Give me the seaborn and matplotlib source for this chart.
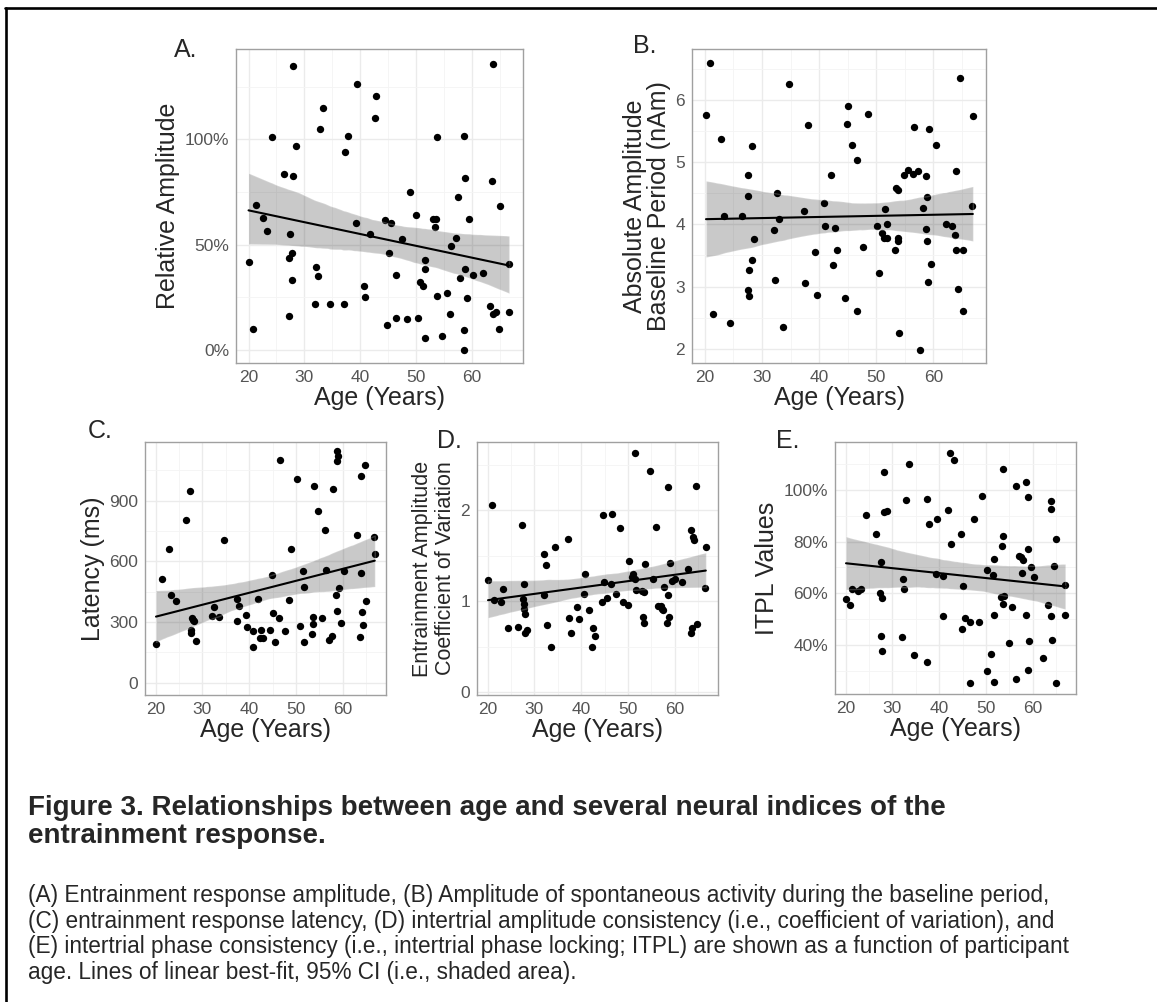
import matplotlib
matplotlib.use('Agg')
import matplotlib.pyplot as plt
from matplotlib.ticker import MultipleLocator, FuncFormatter
from matplotlib.collections import PolyCollection
import seaborn as sns

# A. relative entrainment amplitude (%)
age_a = [20.0, 20.8, 21.3, 22.6, 23.3, 24.2, 26.3, 28.0, 28.0, 28.5, 27.5, 27.7, 27.3, 27.7, 27.3,
         32.0, 32.1, 32.4, 32.8, 33.4, 34.6, 37.2, 37.3, 37.9, 39.5, 39.2, 40.7, 40.8, 41.8, 42.6,
         42.9, 44.5, 44.8, 45.1, 45.6, 46.4, 46.5, 47.5, 48.4, 49.0, 50.1, 50.3, 50.8, 51.3, 51.6,
         51.6, 51.6, 53.1, 53.6, 53.4, 53.7, 53.8, 54.7, 55.5, 56.2, 56.3, 57.1, 57.6, 57.9, 58.6,
         58.8, 58.8, 58.7, 58.6, 59.1, 59.5, 60.3, 62.0, 63.2, 63.6, 63.9, 63.9, 64.4, 65.0, 64.9,
         66.7, 66.7]
rel_amp = [41.7, 9.7, 69.0, 62.7, 56.3, 101.0, 83.3, 134.6, 82.5, 96.8, 55.2, 46.0, 43.5, 33.0, 16.2,
           21.6, 39.5, 35.2, 104.9, 114.8, 21.7, 21.7, 93.8, 101.6, 126.2, 60.0, 30.3, 24.9, 55.2, 110.3,
           120.8, 61.7, 11.7, 46.2, 60.0, 35.4, 15.1, 52.4, 14.6, 74.9, 63.8, 15.1, 32.2, 30.5, 42.7,
           38.4, 5.7, 62.1, 61.9, 58.4, 101.3, 25.4, 6.7, 27.0, 16.8, 49.2, 53.0, 72.5, 34.1, 101.7,
           81.7, 38.3, 9.4, 0.0, 24.4, 62.2, 35.4, 36.5, 20.8, 80.2, 136.0, 17.1, 17.8, 68.4, 9.8,
           40.8, 18.1]

# B. absolute amplitude in the baseline period (nAm)
age_b = [20.2, 20.9, 21.5, 22.8, 23.4, 24.4, 26.5, 27.5, 27.5, 27.8, 27.6, 27.8, 28.2, 28.2, 28.6,
         32.1, 32.6, 32.3, 33.0, 33.6, 34.8, 37.4, 37.5, 38.0, 39.3, 39.7, 40.8, 41.0, 42.0, 42.5,
         42.8, 43.1, 44.6, 44.9, 45.1, 45.7, 46.7, 46.6, 47.7, 48.6, 50.2, 50.5, 51.0, 51.4, 51.6,
         51.8, 51.8, 53.3, 53.5, 53.8, 53.8, 53.8, 53.9, 54.9, 55.6, 56.4, 56.6, 57.3, 57.6, 58.1,
         58.7, 58.9, 58.7, 58.8, 59.1, 59.2, 59.6, 60.5, 62.2, 63.3, 63.7, 64.0, 64.0, 64.3, 64.6,
         65.1, 65.1, 66.8, 66.9]
base_amp = [5.76, 6.59, 2.56, 5.38, 4.14, 2.41, 4.13, 4.79, 4.46, 3.27, 2.95, 2.85, 3.42, 5.26, 3.76,
            3.91, 4.50, 3.11, 4.08, 2.35, 6.25, 4.21, 3.06, 5.59, 3.55, 2.86, 4.35, 3.98, 4.79, 3.34,
            3.94, 3.59, 2.81, 5.61, 5.90, 5.28, 5.03, 2.60, 3.63, 5.77, 3.98, 3.22, 3.86, 3.78, 4.25,
            4.00, 3.78, 3.58, 4.58, 4.55, 3.78, 3.73, 2.25, 4.80, 4.88, 4.81, 5.57, 4.86, 1.98, 4.27,
            4.78, 4.44, 3.93, 3.73, 3.07, 5.53, 3.36, 5.28, 4.01, 3.98, 3.83, 4.85, 3.59, 2.96, 6.35,
            3.58, 2.61, 4.30, 5.74]

# C. latency (ms)
age_c = [20.1, 21.3, 22.8, 23.3, 24.3, 26.4, 27.4, 27.7, 27.5, 27.5, 28.1, 28.2, 28.6, 32.0, 32.5,
         33.6, 34.6, 37.3, 37.4, 37.9, 39.3, 39.5, 40.7, 40.7, 41.8, 42.6, 42.4, 43.0, 44.5, 44.9,
         45.1, 45.6, 46.4, 46.6, 47.6, 48.4, 48.9, 50.1, 50.9, 51.4, 51.6, 51.7, 53.5, 53.6, 53.7,
         53.8, 54.7, 55.5, 56.2, 56.4, 57.1, 57.7, 57.9, 58.6, 58.7, 58.7, 58.7, 58.9, 59.1, 59.5,
         60.3, 63.1, 63.7, 63.8, 63.8, 64.1, 64.3, 64.8, 65.0, 66.7, 66.8]
latency = [193, 514, 659, 434, 404, 805, 947, 321, 263, 245, 311, 304, 208, 329, 374,
           324, 707, 416, 308, 378, 336, 278, 256, 176, 414, 263, 221, 223, 263, 534,
           343, 201, 318, 1100, 258, 408, 660, 1008, 279, 552, 476, 200, 243, 293, 326,
           973, 848, 319, 755, 559, 211, 233, 957, 436, 353, 1146, 1096, 1121, 469, 294,
           551, 730, 228, 1020, 541, 349, 288, 1078, 403, 722, 636]

# D. coefficient of variation of entrainment amplitude
age_d = [20.1, 20.9, 21.3, 22.8, 23.3, 24.3, 26.4, 27.4, 27.7, 27.5, 27.7, 27.8, 28.1, 28.1, 28.5,
         32.0, 32.4, 32.1, 32.8, 33.5, 34.5, 37.2, 37.3, 37.9, 39.1, 39.5, 40.7, 40.6, 41.7, 42.2,
         42.5, 42.9, 44.7, 44.9, 44.4, 45.5, 46.5, 46.3, 47.4, 48.3, 48.9, 49.9, 50.1, 50.8, 51.1,
         51.5, 51.5, 51.6, 52.9, 53.1, 53.5, 53.5, 53.7, 54.6, 55.3, 56.0, 56.3, 57.0, 57.2, 57.6,
         57.4, 58.5, 58.6, 58.7, 58.4, 58.9, 59.4, 60.0, 61.6, 62.8, 63.5, 63.8, 64.0, 63.6, 63.5,
         64.6, 64.8, 66.6, 66.5]
cv = [1.227, 2.059, 1.015, 0.989, 1.136, 0.707, 0.714, 1.839, 1.187, 1.029, 0.967, 0.919, 0.857, 0.652, 0.685,
      1.520, 1.399, 1.066, 0.733, 0.498, 1.597, 1.685, 0.813, 0.652, 0.941, 0.806, 1.300, 1.084, 0.905, 0.502,
      0.703, 0.623, 1.941, 1.209, 0.996, 1.033, 1.956, 1.183, 1.081, 1.802, 0.989, 0.956, 1.440, 1.264, 1.293,
      2.626, 1.242, 1.125, 1.114, 0.821, 0.758, 1.106, 1.407, 2.425, 1.245, 1.817, 0.952, 0.949, 0.916, 1.158,
      0.905, 2.249, 1.066, 0.821, 0.758, 1.418, 1.223, 1.242, 1.212, 1.348, 1.784, 1.707, 1.670, 0.707, 0.656,
      2.264, 0.744, 1.597, 1.143]

# E. intertrial phase locking (%)
age_e = [20.1, 20.9, 21.4, 22.6, 23.3, 24.3, 26.4, 27.4, 27.6, 27.8, 27.5, 27.8, 28.2, 28.3, 28.8,
         32.2, 32.4, 32.0, 33.0, 33.6, 34.7, 37.4, 37.4, 37.9, 39.4, 39.6, 40.7, 40.8, 41.9, 42.3,
         43.1, 42.6, 44.6, 44.9, 45.1, 45.6, 46.5, 46.5, 47.5, 48.5, 49.1, 50.2, 50.3, 51.0, 51.4,
         51.7, 51.7, 51.8, 53.2, 53.5, 53.7, 53.7, 53.9, 53.7, 54.8, 55.5, 56.3, 56.4, 57.1, 57.4,
         57.9, 57.7, 58.6, 58.9, 58.6, 58.9, 59.0, 59.1, 59.5, 60.3, 62.1, 63.3, 63.8, 63.9, 63.9,
         64.1, 64.5, 65.0, 64.9, 66.9, 66.8]
itpl = [58.0, 55.5, 61.6, 61.0, 61.8, 90.1, 83.1, 60.1, 72.2, 58.2, 43.5, 37.7, 106.7, 91.5, 91.9,
        65.4, 61.6, 43.2, 96.0, 109.9, 36.1, 96.3, 33.6, 86.7, 67.3, 88.8, 66.9, 51.3, 92.3, 114.2,
        111.6, 79.1, 82.9, 46.3, 62.7, 50.7, 48.9, 25.3, 88.7, 49.0, 97.7, 69.2, 30.2, 36.8, 67.2,
        51.6, 26.0, 73.1, 58.5, 78.4, 82.0, 56.0, 59.1, 107.9, 40.8, 54.8, 27.0, 101.3, 74.4, 74.0,
        72.8, 67.7, 103.1, 77.0, 51.5, 30.3, 97.2, 41.8, 70.0, 66.5, 35.2, 55.7, 92.4, 95.5, 51.1,
        42.1, 70.5, 80.9, 25.3, 63.2, 51.8]

sns.set_style('white')
plt.rcParams['font.family'] = ['Liberation Sans', 'DejaVu Sans']

W, H = 1157, 1002
fig = plt.figure(figsize=(W / 100, H / 100), dpi=100)
fig.patch.set_facecolor('white')


def rect(left, top, right, bottom):
    # pixel box -> figure fraction
    return [left / W, 1 - bottom / H, (right - left) / W, (bottom - top) / H]


def draw_panel(box, x, y, ylim, major, ylabel, ylab_size=18, pct=False, lsp=1.0):
    ax = fig.add_axes(rect(*box))
    sns.regplot(x=x, y=y, ax=ax, color='black', ci=95, seed=3, truncate=True,
                scatter_kws={'s': 28, 'linewidths': 0, 'alpha': 1},
                line_kws={'linewidth': 1.5})
    for c in ax.collections:
        if isinstance(c, PolyCollection):
            c.set_alpha(0.21)
    ax.set_xlim(17.75, 69.2)
    ax.set_ylim(*ylim)
    ax.xaxis.set_major_locator(MultipleLocator(10))
    ax.xaxis.set_minor_locator(MultipleLocator(5))
    ax.yaxis.set_major_locator(MultipleLocator(major))
    ax.yaxis.set_minor_locator(MultipleLocator(major / 2))
    if pct:
        ax.yaxis.set_major_formatter(FuncFormatter(lambda v, _: f'{v:.0f}%'))
    ax.grid(which='major', color='#EBEBEB', linewidth=1.0)
    ax.grid(which='minor', color='#F4F4F4', linewidth=0.6)
    ax.set_axisbelow(True)
    for s in ax.spines.values():
        s.set_color('#A0A0A0')
        s.set_linewidth(1.0)
    ax.tick_params(which='major', length=3, width=0.8, color='#555555',
                   labelsize=12.5, labelcolor='#555555', pad=2)
    ax.tick_params(which='minor', length=0)
    ax.set_xlabel('Age (Years)', fontsize=18, labelpad=1)
    ax.set_ylabel(ylabel, fontsize=ylab_size, labelpad=3, linespacing=lsp)
    return ax


draw_panel((236, 49, 523, 363), age_a, rel_amp, (-6.3, 142.9), 50, 'Relative Amplitude', pct=True)
draw_panel((692, 49, 986, 363), age_b, base_amp, (1.77, 6.82), 1,
           'Absolute Amplitude\nBaseline Period (nAm)', lsp=1.0)
draw_panel((145, 442, 386, 695), age_c, latency, (-60, 1190), 300, 'Latency (ms)')
draw_panel((477, 442, 718, 695), age_d, cv, (-0.03, 2.747), 1,
           'Entrainment Amplitude\nCoefficient of Variation', ylab_size=15.5, lsp=1.12)
draw_panel((835, 442, 1076, 694), age_e, itpl, (21.2, 118.4), 20, 'ITPL Values', pct=True)

# panel letters
for lab, px, py in [('A.', 174, 57), ('B.', 633, 53), ('C.', 88, 438), ('D.', 437, 448), ('E.', 776, 448)]:
    fig.text(px / W, 1 - py / H, lab, fontsize=18, ha='left', va='baseline')

# caption
fig.text(28 / W, 1 - 815 / H, 'Figure 3. Relationships between age and several neural indices of the',
         fontsize=20, fontweight='bold', ha='left', va='baseline')
fig.text(28 / W, 1 - 843 / H, 'entrainment response.',
         fontsize=20, fontweight='bold', ha='left', va='baseline')
body = ['(A) Entrainment response amplitude, (B) Amplitude of spontaneous activity during the baseline period,',
        '(C) entrainment response latency, (D) intertrial amplitude consistency (i.e., coefficient of variation), and',
        '(E) intertrial phase consistency (i.e., intertrial phase locking; ITPL) are shown as a function of participant',
        'age. Lines of linear best-fit, 95% CI (i.e., shaded area).']
for i, line in enumerate(body):
    fig.text(28 / W, 1 - (902 + 25.7 * i) / H, line, fontsize=16.3, ha='left', va='baseline')

# partial frame at top and left
fig.add_artist(plt.Line2D([5 / W, 1], [1 - 8 / H, 1 - 8 / H], color='black', linewidth=1.9))
fig.add_artist(plt.Line2D([6 / W, 6 / W], [0, 1 - 8 / H], color='black', linewidth=1.9))

fig.savefig('out.png', dpi=100)
